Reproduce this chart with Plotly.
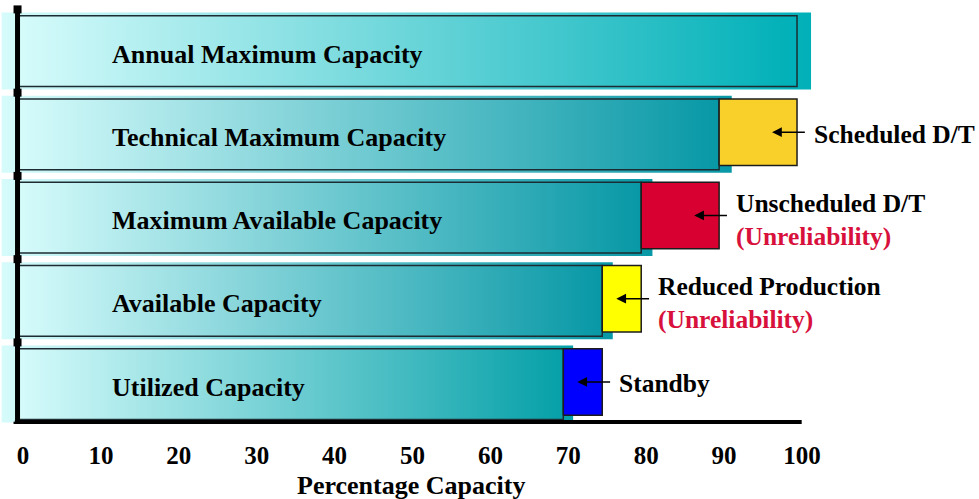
import plotly.graph_objects as go

# ---- data ----
categories = ["Annual Maximum Capacity", "Technical Maximum Capacity",
              "Maximum Available Capacity", "Available Capacity", "Utilized Capacity"]
capacity = [100, 90, 80, 75, 70]

loss_labels = ["Scheduled D/T", "Unscheduled D/T", "Reduced Production", "Standby"]
loss_notes = ["", "(Unreliability)", "(Unreliability)", ""]
loss_values = [10, 10, 5, 5]
loss_colors = ["#f9d02a", "#d80030", "#ffff00", "#0000ff"]

x_ticks = list(range(0, 101, 10))
x_title = "Percentage Capacity"

# ---- styling ----
FONT = "Liberation Serif"
LIGHT = "#d6fbfb"
END_COLORS = ["#00b0b8", "#0898a6", "#0898a6", "#0898a6", "#06a0a8"]
INNER_HALF = 0.425
OUTER_HALF = 0.463
LOSS_H = 0.80
n = len(categories)

fig = go.Figure()


def rect(x0, x1, y0, y1, **kw):
    return go.Scatter(x=[x0, x1, x1, x0, x0], y=[y0, y0, y1, y1, y0],
                      mode="lines", fill="toself", hoverinfo="skip",
                      showlegend=False, **kw)


for i, (name, val) in enumerate(zip(categories, capacity)):
    yc = n - 1 - i
    grad = dict(type="horizontal", colorscale=[[0, LIGHT], [1, END_COLORS[i]]])
    # soft background slab
    fig.add_trace(rect(-2.1, val * 1.018, yc - OUTER_HALF, yc + OUTER_HALF,
                       line=dict(width=0), fillgradient=grad))
    # outlined bar
    fig.add_trace(rect(0, val, yc - INNER_HALF, yc + INNER_HALF,
                       line=dict(color="#1c2c32", width=1.5), fillgradient=grad))
    fig.add_annotation(x=11.8, y=yc, xref="x", yref="y", text=name,
                       showarrow=False, xanchor="left", yanchor="middle", yshift=-3,
                       font=dict(family=FONT, size=26, color="black", weight="bold"))

for j, (lab, note, lv, col) in enumerate(zip(loss_labels, loss_notes, loss_values, loss_colors)):
    row = j + 1
    yc = n - 1 - row
    base = capacity[row]
    end = base + lv
    top = yc + INNER_HALF
    fig.add_trace(rect(base, end, top - LOSS_H, top,
                       fillcolor=col, line=dict(color="#1c1c1c", width=1.5)))
    ymid = top - LOSS_H / 2
    fig.add_annotation(x=end - 3.2, y=ymid, ax=end + 1.2, ay=ymid,
                       xref="x", yref="y", axref="x", ayref="y", text="",
                       showarrow=True, arrowhead=2, arrowsize=1.3,
                       arrowwidth=1.5, arrowcolor="black")
    txt = lab if not note else f"{lab}<br><span style='color:#d8103c'>{note}</span>"
    fig.add_annotation(x=end + 1.9, y=ymid if not note else ymid - 0.055,
                       xref="x", yref="y", text=txt, showarrow=False,
                       xanchor="left", yanchor="middle", align="left",
                       yshift=-2 if not note else 0,
                       font=dict(family=FONT, size=25.5, color="black", weight="bold"))

# axes drawn as heavy lines
fig.add_shape(type="line", x0=-0.4, x1=100.6, y0=-0.50, y1=-0.50,
              line=dict(color="#9a9a9a", width=2), layer="above")
fig.add_shape(type="line", x0=-0.4, x1=100.6, y0=-0.462, y1=-0.462,
              line=dict(color="black", width=5), layer="above")
fig.add_shape(type="line", x0=-0.06, x1=-0.06, y0=-0.48, y1=4.52,
              line=dict(color="black", width=5), layer="above")
fig.add_trace(go.Scatter(x=[-0.06] * 6, y=[k + 0.5 for k in range(-1, n)],
                         mode="markers", hoverinfo="skip", showlegend=False,
                         marker=dict(symbol="square", size=8, color="black")))

fig.add_annotation(x=50.5, y=-0.146, xref="x", yref="paper", text=x_title,
                   showarrow=False, xanchor="center", yanchor="middle",
                   font=dict(family=FONT, size=26, color="black", weight="bold"))

fig.update_layout(
    width=979, height=499,
    margin=dict(l=0, r=0, t=0, b=75),
    paper_bgcolor="white", plot_bgcolor="white",
    showlegend=False,
    xaxis=dict(range=[-2.31, 123.36], tickvals=x_ticks,
               ticktext=[str(t) for t in x_ticks],
               showgrid=False, zeroline=False, showline=False, ticks="",
               ticklabelshift=5, ticklabelstandoff=14,
               tickfont=dict(family=FONT, size=25, color="black", weight="bold")),
    yaxis=dict(range=[-0.48, 4.613], showgrid=False, zeroline=False,
               showline=False, showticklabels=False, ticks=""),
)

fig.write_html("out.html", config={"displayModeBar": False},
               post_script="document.body.style.margin='0';document.body.style.overflow='hidden';")
